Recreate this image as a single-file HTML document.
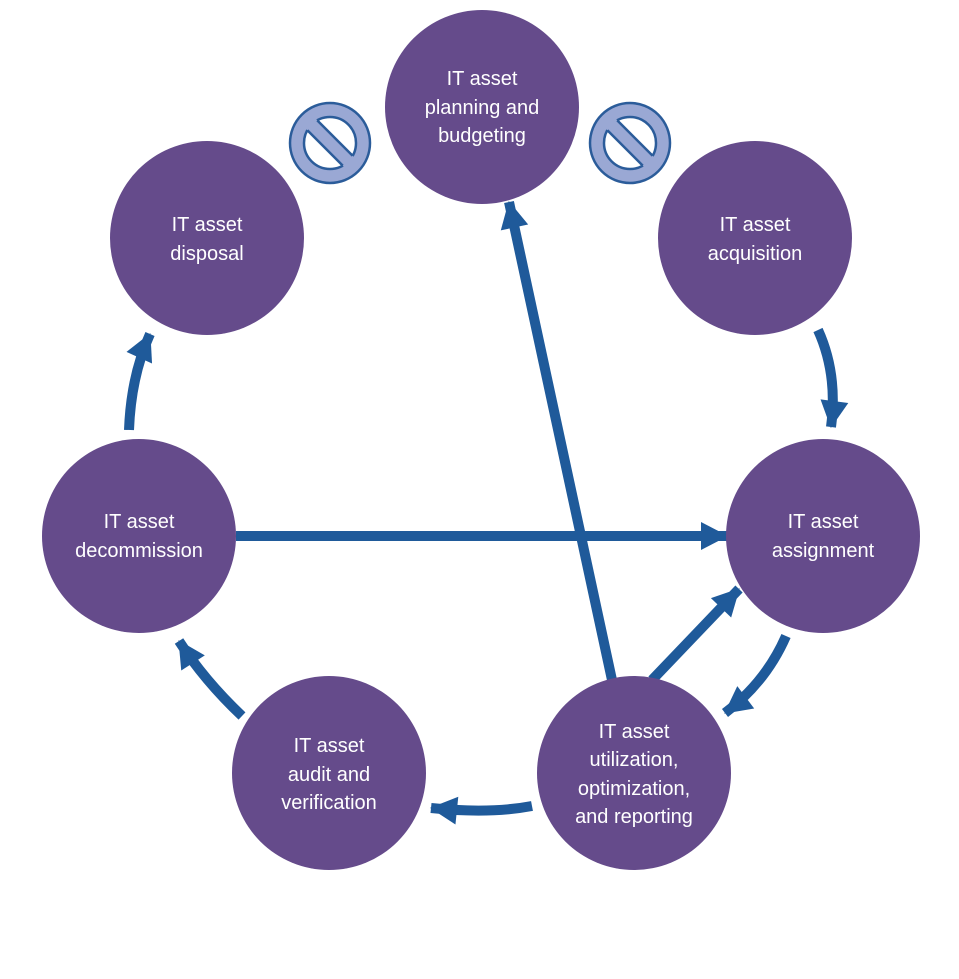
<!DOCTYPE html>
<html><head><meta charset="utf-8"><style>
html,body{margin:0;padding:0;background:#fff;}
svg{display:block;}
text{font-family:"Liberation Sans",sans-serif;font-size:20px;fill:#fff;text-anchor:middle;}
marker{overflow:visible;}
</style></head><body>
<svg width="959" height="979" viewBox="0 0 959 979">
<defs>
<marker id="a" markerUnits="userSpaceOnUse" markerWidth="40" markerHeight="40" refX="26" refY="16" orient="auto" overflow="visible">
<path d="M0,2 L27,16 L0,30 Z" fill="#1F5A9A"/>
</marker>
</defs>
<g stroke="#1F5A9A" stroke-width="10" fill="none" marker-end="url(#a)">
<path d="M818,330 Q838,374 831,427"/>
<path d="M786,636 Q766,682 725,713"/>
<path d="M652,680 L739,589"/>
<path d="M612,680 L509,202"/>
<path d="M236,536 L727,536"/>
<path d="M532,806 Q490,814 431,808"/>
<path d="M242,716 Q204,680 179,641"/>
<path d="M129,430 Q131,376 150,334"/>
</g>
<g fill="#654B8B">
<circle cx="482" cy="107" r="97"/>
<circle cx="207" cy="238" r="97"/>
<circle cx="755" cy="238" r="97"/>
<circle cx="139" cy="536" r="97"/>
<circle cx="823" cy="536" r="97"/>
<circle cx="329" cy="773" r="97"/>
<circle cx="634" cy="773" r="97"/>
</g>
<g>
<g transform="translate(330,143)">
<circle r="40" fill="#9AA8D4" stroke="#2B5C9A" stroke-width="2.5"/>
<circle r="26" fill="#fff" stroke="#2B5C9A" stroke-width="2.5"/>
<g transform="rotate(45)">
<rect x="-28" y="-7" width="56" height="14" fill="#9AA8D4"/>
<path d="M-25,-7 L25,-7 M-25,7 L25,7" stroke="#2B5C9A" stroke-width="2.5"/>
</g>
</g>
<g transform="translate(630,143)">
<circle r="40" fill="#9AA8D4" stroke="#2B5C9A" stroke-width="2.5"/>
<circle r="26" fill="#fff" stroke="#2B5C9A" stroke-width="2.5"/>
<g transform="rotate(45)">
<rect x="-28" y="-7" width="56" height="14" fill="#9AA8D4"/>
<path d="M-25,-7 L25,-7 M-25,7 L25,7" stroke="#2B5C9A" stroke-width="2.5"/>
</g>
</g>
</g>
<text x="482" y="85">IT asset</text>
<text x="482" y="114">planning and</text>
<text x="482" y="142">budgeting</text>
<text x="207" y="231">IT asset</text>
<text x="207" y="260">disposal</text>
<text x="755" y="231">IT asset</text>
<text x="755" y="260">acquisition</text>
<text x="139" y="528">IT asset</text>
<text x="139" y="557">decommission</text>
<text x="823" y="528">IT asset</text>
<text x="823" y="557">assignment</text>
<text x="329" y="752">IT asset</text>
<text x="329" y="781">audit and</text>
<text x="329" y="809">verification</text>
<text x="634" y="738">IT asset</text>
<text x="634" y="766">utilization,</text>
<text x="634" y="795">optimization,</text>
<text x="634" y="823">and reporting</text>
</svg>
</body></html>
